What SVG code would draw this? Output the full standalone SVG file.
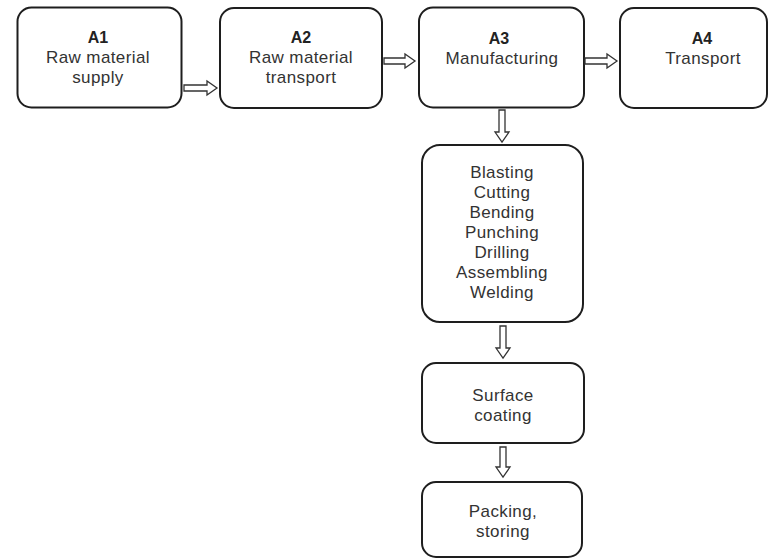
<svg xmlns="http://www.w3.org/2000/svg" width="769" height="558" viewBox="0 0 769 558">
<style>
.box{fill:#fff;stroke:#1e1e1e;stroke-width:2}
.t{font-family:"Liberation Sans",Arial,sans-serif;font-size:17px;letter-spacing:0.4px;fill:#333;text-anchor:middle}
.b{font-family:"Liberation Sans",Arial,sans-serif;font-size:16px;font-weight:bold;fill:#222;text-anchor:middle}
.arr{fill:#fff;stroke:#333;stroke-width:1.3;stroke-linejoin:miter}
</style>
<rect width="769" height="558" fill="#fff"/>
<g id="A1">
<rect class="box" x="17.5" y="7.5" width="164" height="100" rx="14"/>
<text class="b" x="98" y="43">A1</text>
<text class="t" x="98" y="63">Raw material</text>
<text class="t" x="98" y="83">supply</text>
</g>
<g id="A2">
<rect class="box" x="220" y="8" width="162" height="100" rx="14"/>
<text class="b" x="301" y="43">A2</text>
<text class="t" x="301" y="63">Raw material</text>
<text class="t" x="301" y="83">transport</text>
</g>
<g id="A3">
<rect class="box" x="419" y="7.5" width="165" height="100" rx="14"/>
<text class="b" x="499" y="44">A3</text>
<text class="t" x="502" y="64">Manufacturing</text>
</g>
<g id="A4">
<rect class="box" x="620" y="8" width="147" height="100" rx="14"/>
<text class="b" x="702" y="44">A4</text>
<text class="t" x="703" y="64">Transport</text>
</g>
<g id="process">
<rect class="box" x="422" y="145" width="161" height="177" rx="18"/>
<text class="t" x="502" y="178">Blasting</text>
<text class="t" x="502" y="198">Cutting</text>
<text class="t" x="502" y="218">Bending</text>
<text class="t" x="502" y="238">Punching</text>
<text class="t" x="502" y="258">Drilling</text>
<text class="t" x="502" y="278">Assembling</text>
<text class="t" x="502" y="298">Welding</text>
</g>
<g id="surface">
<rect class="box" x="422" y="363" width="162" height="80" rx="14"/>
<text class="t" x="503" y="401">Surface</text>
<text class="t" x="503" y="421">coating</text>
</g>
<g id="packing">
<rect class="box" x="422" y="482" width="160" height="75" rx="14"/>
<text class="t" x="503" y="517">Packing,</text>
<text class="t" x="503" y="537">storing</text>
</g>
<g id="connectors">
<path class="arr" d="M184,85 H207 V81 L217,88 L207,95 V91 H184 Z"/>
<path class="arr" d="M384,58 H405 V54 L415,61 L405,68 V64 H384 Z"/>
<path class="arr" d="M585,58 H607 V54 L617,61 L607,68 V64 H585 Z"/>
<path class="arr" d="M499,110 V132 H495 L502,142 L509,132 H505 V110 Z"/>
<path class="arr" d="M500,326 V348 H496 L503,358 L510,348 H506 V326 Z"/>
<path class="arr" d="M500,447 V467 H496 L503,477 L510,467 H506 V447 Z"/>
</g>
</svg>
